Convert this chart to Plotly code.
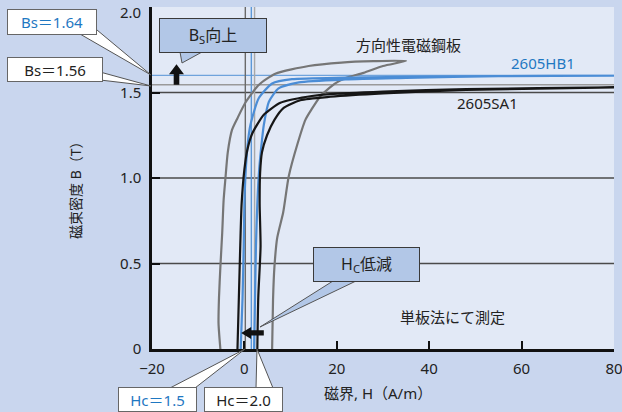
import plotly.graph_objects as go

# ---------------- data ----------------
# 方向性電磁鋼板 (grain-oriented steel) loop: up the left branch, down the right branch
GO_X = [-5.2, -5.6, -5.5, -5.2, -4.8, -4.5, -4.1, -3.6, -2.7, -1.5, 0.2, 3.1, 6.7, 13.9, 21.0, 28.0, 35.0,
        30.0, 25.8, 21.9, 19.5, 16.5, 14.5, 13.2, 11.5, 9.6, 8.4, 7.1, 6.5, 6.2, 6.0]
GO_B = [0.0, 0.15, 0.30, 0.48, 0.68, 0.87, 1.00, 1.15, 1.28, 1.35, 1.44, 1.544, 1.61, 1.655, 1.675, 1.683, 1.685,
        1.655, 1.615, 1.585, 1.55, 1.48, 1.40, 1.34, 1.20, 1.01, 0.80, 0.65, 0.48, 0.29, 0.0]

# 2605HB1 loop
HB1_X = [-0.8, -0.4, -0.15, 0.0, 0.3, 0.8, 1.3, 3.1, 6.0, 10.3, 21.9, 40.0, 55.0, 80.0,
         55.0, 35.0, 21.9, 11.8, 7.4, 5.3, 4.2, 3.8, 3.2, 2.8, 2.5, 2.3, 2.1]
HB1_B = [0.0, 0.30, 0.60, 0.85, 1.05, 1.22, 1.31, 1.466, 1.553, 1.578, 1.587, 1.593, 1.596, 1.598,
         1.596, 1.585, 1.576, 1.559, 1.524, 1.446, 1.31, 1.22, 1.05, 0.85, 0.60, 0.30, 0.0]

# 2605SA1 loop
SA1_X = [-1.5, -1.2, -0.9, -0.6, 0.0, 0.6, 1.7, 4.2, 7.8, 13.6, 18.6, 30.0, 48.0, 80.0,
         48.0, 30.0, 18.6, 12.1, 8.5, 6.5, 4.9, 3.8, 3.4, 3.3, 3.5, 3.0, 2.8]
SA1_B = [0.0, 0.30, 0.60, 0.85, 1.05, 1.16, 1.26, 1.37, 1.44, 1.475, 1.49, 1.505, 1.52, 1.53,
         1.515, 1.495, 1.475, 1.455, 1.41, 1.34, 1.25, 1.15, 1.03, 0.85, 0.60, 0.30, 0.0]

X_TICKS = [-20, 0, 20, 40, 60, 80]
X_TICK_TEXT = ["\u221220", "0", "20", "40", "60", "80"]
Y_TICKS = [0, 0.5, 1.0, 1.5, 2.0]
Y_TICK_TEXT = ["0", "0.5", "1.0", "1.5", "2.0"]
GRID_B = [0.5, 1.0, 1.5]

BS_LINES = [1.60, 1.545]          # drawn positions of Bs reference lines (HB1, SA1)
HC_LINES = [0.2, 1.5, 2.2]        # vertical reference lines near H = 0

# ---------------- style ----------------
W, H = 622, 412
ML, MR, MT, MB = 152, 8, 7, 63
PW, PH = W - ML - MR, H - MT - MB
XR = (-20, 80)
YR = (0, 2)
UX = (XR[1] - XR[0]) / PW      # data units per pixel
UY = (YR[1] - YR[0]) / PH

OUTER = "#c9d6ee"
INNER = "#e2e9f6"
BLUE = "#4b8dd6"
BLUE_TXT = "#1f78c2"
GRAY = "#767676"
BLACK = "#161616"
BOXBLUE = "#b2c7e7"
FONT = "Noto Sans, Noto Sans CJK JP, sans-serif"


def px(xp):
    return (xp - ML) / PW


def py(yp):
    return (H - MB - yp) / PH


fig = go.Figure()

fig.add_trace(go.Scatter(x=GO_X, y=GO_B, mode="lines", line=dict(color=GRAY, width=2.2, shape="spline", smoothing=0.6),
                         name="方向性電磁鋼板", hoverinfo="skip"))
fig.add_trace(go.Scatter(x=HB1_X, y=HB1_B, mode="lines", line=dict(color=BLUE, width=2.2, shape="spline", smoothing=0.6),
                         name="2605HB1", hoverinfo="skip"))
fig.add_trace(go.Scatter(x=SA1_X, y=SA1_B, mode="lines", line=dict(color=BLACK, width=2.2, shape="spline", smoothing=0.6),
                         name="2605SA1", hoverinfo="skip"))

shapes = []
# gridlines
for g in GRID_B:
    shapes.append(dict(type="line", xref="paper", x0=0, x1=1, yref="y", y0=g, y1=g,
                       line=dict(color="#4a4a4a", width=1.3), layer="below"))
# Bs reference lines
shapes.append(dict(type="line", xref="paper", x0=0, x1=1, yref="y", y0=BS_LINES[0], y1=BS_LINES[0],
                   line=dict(color="#6fa3dc", width=1.3), layer="below"))
shapes.append(dict(type="line", xref="paper", x0=0, x1=1, yref="y", y0=BS_LINES[1], y1=BS_LINES[1],
                   line=dict(color="#9a9a9a", width=1.5), layer="below"))
# Hc reference lines
hc_cols = ["#6a6a6a", "#5c98d8", "#a8a8a8"]
for v, c in zip(HC_LINES, hc_cols):
    shapes.append(dict(type="line", xref="x", x0=v, x1=v, yref="paper", y0=0, y1=1,
                       line=dict(color=c, width=1.4), layer="below"))


def tail(points, fill):
    d = "M " + " L ".join(f"{px(a):.5f},{py(b):.5f}" for a, b in points) + " Z"
    return dict(type="path", xref="paper", yref="paper", path=d, fillcolor=fill,
                line=dict(color="#555555", width=1), layer="above")


shapes.append(tail([(80, 34), (97, 30), (151, 75)], "white"))
shapes.append(tail([(100, 72), (100, 80), (151, 86)], "white"))
shapes.append(tail([(180, 52), (202, 52), (182, 63)], BOXBLUE))
shapes.append(tail([(333, 281), (356, 281), (260, 327)], BOXBLUE))
shapes.append(tail([(170, 388), (195, 388), (245, 349)], "white"))
shapes.append(tail([(256, 388), (273, 388), (257, 349)], "white"))


# block arrows (pixel-sized head/shaft, anchored in data coordinates)
def data_path(pts):
    return "M " + " L ".join(f"{a:.4f},{b:.4f}" for a, b in pts) + " Z"


def up_arrow(x, y_tail, y_tip, head_w=7.5, head_h=10, shaft_w=2.8):
    hb = y_tip - head_h * UY
    pts = [(x - shaft_w * UX, y_tail), (x + shaft_w * UX, y_tail), (x + shaft_w * UX, hb),
           (x + head_w * UX, hb), (x, y_tip), (x - head_w * UX, hb), (x - shaft_w * UX, hb)]
    return dict(type="path", xref="x", yref="y", path=data_path(pts), fillcolor="#111111",
                line=dict(width=0), layer="above")


def left_arrow(y, x_tail, x_tip, head_w=6, head_l=10, shaft_w=2.6):
    hb = x_tip + head_l * UX
    pts = [(x_tail, y - shaft_w * UY), (x_tail, y + shaft_w * UY), (hb, y + shaft_w * UY),
           (hb, y + head_w * UY), (x_tip, y), (hb, y - head_w * UY), (hb, y - shaft_w * UY)]
    return dict(type="path", xref="x", yref="y", path=data_path(pts), fillcolor="#111111",
                line=dict(width=0), layer="above")


shapes.append(up_arrow(-14.7, 1.545, 1.665))
shapes.append(left_arrow(0.094, 4.2, -0.7))

annotations = []


def box(text, cx, cy, w, h, bg, color, border="#666666", size=15):
    annotations.append(dict(text=text, x=px(cx), y=py(cy), xref="paper", yref="paper",
                            xanchor="center", yanchor="middle", showarrow=False,
                            width=w, height=h, bgcolor=bg, bordercolor=border, borderwidth=1,
                            borderpad=0, font=dict(size=size, color=color, family=FONT)))


box("Bs\uff1d1.64", 52, 22, 88, 24, "white", BLUE_TXT)
box("Bs\uff1d1.56", 55, 69.5, 94, 23, "white", "#222222")
box("B<sub>S</sub>向上", 213, 35.5, 106, 33, BOXBLUE, "#222222", border="#3a3a3a", size=16)
box("H<sub>C</sub>低減", 366.5, 264.5, 105, 33, BOXBLUE, "#222222", border="#3a3a3a", size=16)
box("Hc\uff1d1.5", 157.5, 399, 77, 23, "white", BLUE_TXT)
box("Hc\uff1d2.0", 243.5, 399, 77, 23, "white", "#222222")


# labels
def label(text, x, y, color="#222222", size=15):
    annotations.append(dict(text=text, x=x, y=y, xref="x", yref="y", showarrow=False,
                            xanchor="center", yanchor="middle", font=dict(size=size, color=color, family=FONT)))


label("方向性電磁鋼板", 35.5, 1.78)
label("2605HB1", 64.7, 1.672, color=BLUE_TXT)
label("2605SA1", 52.6, 1.44)
label("単板法にて測定", 45.0, 0.187)

# the top y tick label sits a little below the top edge in the reference
annotations.append(dict(text=Y_TICK_TEXT[-1], x=px(143), y=py(12), xref="paper", yref="paper",
                        showarrow=False, xanchor="right", yanchor="middle",
                        font=dict(size=15, color="#222222", family=FONT)))
y_tick_text_axis = Y_TICK_TEXT[:-1] + [""]

# axis titles
annotations.append(dict(text="磁束密度 B（T）", x=px(75), y=py(187), xref="paper", yref="paper",
                        showarrow=False, textangle=-90, xanchor="center", yanchor="middle",
                        font=dict(size=14, color="#222222", family=FONT)))
annotations.append(dict(text="磁界, H（A/m）", x=px(378), y=py(393), xref="paper", yref="paper",
                        showarrow=False, xanchor="center", yanchor="middle",
                        font=dict(size=15, color="#222222", family=FONT)))

fig.update_layout(
    width=W, height=H,
    margin=dict(l=ML, r=MR, t=MT, b=MB, pad=0, autoexpand=False),
    paper_bgcolor=OUTER, plot_bgcolor=INNER,
    showlegend=False,
    font=dict(family=FONT, size=15, color="#222222"),
    shapes=shapes, annotations=annotations,
    xaxis=dict(range=list(XR), tickvals=X_TICKS, ticktext=X_TICK_TEXT, ticks="inside", ticklen=8,
               tickwidth=1.5, tickcolor="#111111", showline=True, linecolor="#111111", linewidth=2.5,
               showgrid=False, zeroline=False, ticklabelstandoff=4, ticklabeloverflow="allow",
               automargin=False, tickfont=dict(size=15, color="#222222")),
    yaxis=dict(range=list(YR), tickvals=Y_TICKS, ticktext=y_tick_text_axis, ticks="inside", ticklen=8,
               tickwidth=1.5, tickcolor="#111111", showline=True, linecolor="#111111", linewidth=2.5,
               showgrid=False, zeroline=False, ticklabelstandoff=5, ticklabeloverflow="allow",
               automargin=False, tickfont=dict(size=15, color="#222222")),
)

fig.write_html("out.html", config={"displayModeBar": False},
               post_script="document.body.style.margin='0';document.body.style.background='" + OUTER + "';")
